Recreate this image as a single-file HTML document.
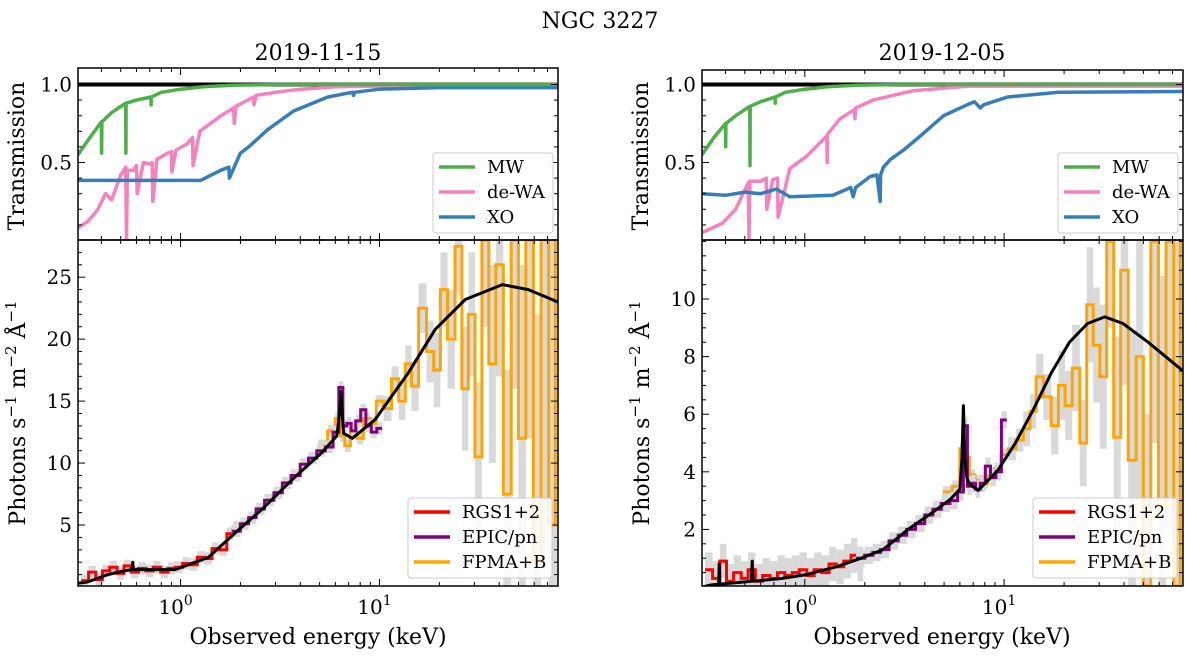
<!DOCTYPE html>
<html><head><meta charset="utf-8"><style>
html,body{margin:0;padding:0;background:#fff;overflow:hidden;width:1200px;height:661px;}
svg{display:block;font-family:"DejaVu Serif","Liberation Serif",serif;}
</style></head><body>
<svg id="fig" width="1200" height="661" viewBox="0 0 1200 661" xmlns="http://www.w3.org/2000/svg">
<text x="600" y="28" font-size="22" text-anchor="middle">NGC 3227</text>
<text x="318" y="60" font-size="22" text-anchor="middle">2019-11-15</text>
<text x="942" y="60" font-size="22" text-anchor="middle">2019-12-05</text>
<text x="318" y="644" font-size="22" text-anchor="middle">Observed energy (keV)</text>
<text x="942" y="644" font-size="22" text-anchor="middle">Observed energy (keV)</text>
<text transform="translate(24,156) rotate(-90)" font-size="22" text-anchor="middle">Transmission</text>
<text transform="translate(648,156) rotate(-90)" font-size="22" text-anchor="middle">Transmission</text>
<text transform="translate(25,413) rotate(-90)" font-size="22" text-anchor="middle">Photons s<tspan dy="-9" font-size="15">−1</tspan><tspan dy="9"> m</tspan><tspan dy="-9" font-size="15">−2</tspan><tspan dy="9"> Å</tspan><tspan dy="-9" font-size="15">−1</tspan></text>
<text transform="translate(649,413) rotate(-90)" font-size="22" text-anchor="middle">Photons s<tspan dy="-9" font-size="15">−1</tspan><tspan dy="9"> m</tspan><tspan dy="-9" font-size="15">−2</tspan><tspan dy="9"> Å</tspan><tspan dy="-9" font-size="15">−1</tspan></text>
</svg>
<script>
// ---------- data: left (2019-11-15) ----------
const mwE_L=[0.305,0.35,0.40,0.401,0.402,0.45,0.53,0.531,0.532,0.6,0.71,0.711,0.712,0.8,1.0,1.3,1.8,3,79];
const mwV_L=[0.55,0.66,0.76,0.56,0.76,0.82,0.88,0.56,0.88,0.9,0.92,0.87,0.92,0.95,0.97,0.985,0.995,1,1];
const dwE_L=[0.305,0.34,0.38,0.42,0.45,0.5,0.53,0.535,0.54,0.58,0.6,0.605,0.65,0.7,0.72,0.725,0.76,0.86,0.9,0.905,0.95,1.08,1.15,1.155,1.25,1.41,1.6,1.85,1.86,1.9,2.33,2.34,2.4,3.0,4,6,10,79];
const dwV_L=[0.08,0.12,0.19,0.3,0.26,0.42,0.47,0.0,0.45,0.45,0.48,0.3,0.5,0.49,0.5,0.25,0.52,0.56,0.57,0.44,0.58,0.62,0.66,0.48,0.7,0.75,0.8,0.85,0.75,0.86,0.92,0.87,0.93,0.95,0.97,0.985,0.99,1.0];
const xoE_L=[0.305,1.26,1.59,1.75,1.76,2.0,2.2,2.74,3.7,5.5,7.3,7.4,7.5,10,20,79];
const xoV_L=[0.385,0.385,0.45,0.47,0.4,0.56,0.6,0.71,0.83,0.92,0.95,0.93,0.95,0.97,0.98,0.98];
const modE_L=[0.305,0.34,0.43,0.52,0.57,0.575,0.58,0.65,0.94,1.38,1.89,2.58,3.66,5.17,6.1,6.3,6.4,6.5,6.6,7.3,9.5,14,19.1,27,41.5,56,79];
const modV_L=[0.3,0.4,1.0,1.3,1.4,2.0,1.4,1.4,1.4,2.4,4.4,6.3,8.7,10.9,12.2,14,15.8,14,12.4,12.0,13.5,17.3,20.8,23.2,24.4,24.0,23.0];
const rgsE=[0.33,0.36,0.39,0.42,0.46,0.5,0.54,0.59,0.64,0.7,0.76,0.83,0.9,0.98,1.07,1.16,1.27,1.38,1.5,1.64,1.78,1.9];
const rgsV_L=[0.5,1.2,0.6,1.3,1.6,1.1,1.7,1.2,1.5,1.3,1.6,1.2,1.5,1.6,1.9,1.8,2.4,2.3,3.1,3.0,4.3,4.8];
const pnE=[1.9,2.1,2.3,2.5,2.8,3.1,3.4,3.8,4.2,4.6,5.1,5.6,6.1,6.4,6.7,7.0,7.4,7.8,8.3,8.8,9.4,10];
const pnV_L=[4.5,5.1,5.6,6.3,7.0,7.6,8.4,9.0,9.9,10.4,11.0,11.3,12.5,16.1,13.0,13.2,12.6,13.4,14.3,13.0,12.5,12.8];
const fpE=[5.2,5.8,6.2,6.5,6.9,7.4,8,8.6,9.3,10,11,12,13,14,15,16.5,18,19.5,21,23,25,27,29,31.5,34,37,40,44,48,52,57,62,68,74,79];
const fpV_L=[11.4,12.6,13.6,12.2,11.4,12.8,12.0,13.6,13.2,15.0,14.4,16.8,15.0,18.0,16.2,22.5,19.0,17.5,24.0,20.0,27.5,16.0,22.0,10.5,28,18.0,26.0,7.5,28,12,28,2.0,28,5,28];
const fpErr_L=[0.5,0.5,0.5,0.5,0.5,0.5,0.5,0.5,0.5,0.5,1,1,1.5,1.5,2,2,2.5,3,3,4,4,5,5,6,7,8,9,10,12,14,16,20,25,30,30];
// ---------- data: right (2019-12-05) ----------
const mwE_R=mwE_L;
const mwV_R=[0.55,0.66,0.75,0.6,0.75,0.8,0.86,0.48,0.86,0.89,0.92,0.88,0.92,0.95,0.97,0.985,0.995,1,1];
const dwE_R=[0.305,0.385,0.45,0.52,0.525,0.53,0.6,0.64,0.645,0.69,0.73,0.735,0.84,1.02,1.29,1.295,1.3,1.5,1.78,1.785,1.8,2.2,3.5,6.6,79];
const dwV_R=[0.05,0.11,0.2,0.37,0.0,0.38,0.38,0.4,0.2,0.39,0.4,0.15,0.46,0.54,0.67,0.5,0.68,0.78,0.84,0.78,0.85,0.9,0.96,0.99,0.99];
const xoE_R=[0.305,0.4,0.5,0.6,0.72,0.84,1.38,1.7,1.75,1.8,2.13,2.3,2.39,2.4,2.48,2.69,3.13,3.8,4.97,6.8,7.1,7.6,7.9,10.4,18.7,79];
const xoV_R=[0.3,0.29,0.31,0.3,0.33,0.28,0.29,0.34,0.28,0.34,0.41,0.42,0.25,0.42,0.47,0.52,0.58,0.67,0.8,0.88,0.89,0.85,0.87,0.92,0.95,0.955];
const modE_R=[0.305,0.338,0.37,0.372,0.375,0.51,0.54,0.545,0.55,0.77,1.0,1.44,1.92,2.47,3.3,4.4,5.4,6.0,6.15,6.25,6.35,6.5,6.67,7.4,9.3,11.4,14,17.3,21.3,26.2,32,39.5,52.8,79];
const modV_R=[0.0,0.07,0.1,0.8,0.1,0.18,0.2,0.9,0.2,0.3,0.42,0.7,1.0,1.3,2.0,2.6,3.06,3.4,4.5,6.3,4.5,3.8,3.6,3.35,4.05,5.0,6.15,7.45,8.5,9.15,9.38,9.15,8.5,7.5];
const rgsV_R=[0.6,0.3,0.9,0.2,0.5,0.3,0.6,0.2,0.4,0.3,0.5,0.4,0.5,0.6,0.4,0.6,0.5,0.8,0.7,0.9,1.1,0.8];
const pnV_R=[1.0,1.1,1.2,1.3,1.6,1.8,2.0,2.2,2.5,2.7,2.9,3.0,3.3,5.6,3.5,3.6,3.4,3.6,4.2,3.8,4.0,5.8];
const fpV_R=[3.3,3.5,4.8,4.5,3.9,3.7,3.6,3.9,4.1,4.6,4.8,5.1,5.5,6.1,7.3,6.6,5.6,7.0,6.3,7.6,5.0,9.8,8.4,7.3,12,5.2,11,4.4,8.0,0.0,12,2.8,12,0.0,12];
const fpErr_R=[0.2,0.2,0.2,0.2,0.2,0.2,0.2,0.2,0.2,0.2,0.4,0.4,0.6,0.6,0.8,0.8,1,1.2,1.2,1.5,1.5,2,2,2.5,3,3.5,4,4.5,5,6,7,8,10,12,14];
const tTicks=[0.5,1.0];
const tTickLabels=["0.5","1.0"];
const fTicks_L=[5,10,15,20,25];
const fTicks_R=[2,4,6,8,10];
const xTickLabelsExp=["0","1"];

const NS="http://www.w3.org/2000/svg";
const svg=document.getElementById('fig');
function mk(tag,attrs,parent){const e=document.createElementNS(NS,tag);for(const k in attrs)e.setAttribute(k,attrs[k]);(parent||svg).appendChild(e);return e;}
const EMIN=0.305,EMAX=79;
const clampY=y=>Math.max(240,Math.min(586,y));

function panel(side,x0,x1,tTop,d){
  const lx=e=>x0+(Math.log10(e)-Math.log10(EMIN))/(Math.log10(EMAX)-Math.log10(EMIN))*(x1-x0);
  const ty=v=>240.5-156*v;
  const bScale=d.bmax;
  const by=v=>587-(587-240)*v/bScale;
  const g=mk('g',{});
  
  
  const defs=mk('defs',{},g);
  const c1=mk('clipPath',{id:side+'ct'},defs);mk('rect',{x:x0,y:tTop,width:x1-x0,height:240-tTop},c1);
  const c2=mk('clipPath',{id:side+'cb'},defs);mk('rect',{x:x0,y:240,width:x1-x0,height:346},c2);
  const gt=mk('g',{'clip-path':'url(#'+side+'ct)'},g);
  
  
  const bl=mk('line',{x1:x0,x2:x1,y1:ty(1),y2:ty(1),stroke:'#000','stroke-width':4},gt);
  
  
  function tline(E,V,col,name){
    let p='';E.forEach((e,i)=>{p+=(i?'L':'M')+lx(e).toFixed(1)+','+ty(V[i]).toFixed(1);});
    const el=mk('path',{d:p,fill:'none',stroke:col,'stroke-width':3.5,'stroke-linejoin':'round'},gt);
    
    
  }
  tline(d.dwE,d.dwV,'#f781bf',side+'-dewa-line');
  tline(d.xoE,d.xoV,'#377eb8',side+'-xo-line');
  tline(d.mwE,d.mwV,'#4daf4a',side+'-mw-line');
  const gb=mk('g',{'clip-path':'url(#'+side+'cb)'},g);
  
  
  function edges(E){const ed=[];for(let i=0;i<E.length;i++){const a=i?Math.sqrt(E[i-1]*E[i]):E[i]*E[i]/Math.sqrt(E[i]*E[i+1]);const b=i<E.length-1?Math.sqrt(E[i]*E[i+1]):E[i]*E[i]/Math.sqrt(E[i-1]*E[i]);ed.push([Math.max(a,EMIN),Math.min(b,EMAX)]);}return ed;}
  function dataset(E,V,err,col,name){
    const ed=edges(E);
    const ge=mk('g',{},gb);
    
    
    E.forEach((e,i)=>{const er=Array.isArray(err)?err[i]:err;
      const yTop=clampY(by(V[i]+er)), yBot=clampY(by(V[i]-er));
      const r=mk('rect',{x:lx(ed[i][0]),width:Math.max(1,lx(ed[i][1])-lx(ed[i][0])),y:yTop,height:Math.max(1,yBot-yTop),fill:'#d9d9d9'},ge);
      
      });
    let p='';E.forEach((e,i)=>{const y=clampY(by(V[i])).toFixed(1);p+=(i?'L':'M')+lx(ed[i][0]).toFixed(1)+','+y+'L'+lx(ed[i][1]).toFixed(1)+','+y;});
    const s=mk('path',{d:p,fill:'none',stroke:col,'stroke-width':3},gb);
    
    
  }
  dataset(fpE,d.fpV,d.fpErr,'#ffa500',side+'-fpma');
  dataset(rgsE,d.rgsV,d.rgsErr,'#ff0000',side+'-rgs');
  dataset(pnE,d.pnV,d.pnErr,'#800080',side+'-epic-pn');
  let mp='';d.modE.forEach((e,i)=>{mp+=(i?'L':'M')+lx(e).toFixed(1)+','+by(d.modV[i]).toFixed(1);});
  const ml=mk('path',{d:mp,fill:'none',stroke:'#000','stroke-width':3,'stroke-linejoin':'round'},gb);
  
  
  const f1=mk('rect',{x:x0,y:tTop,width:x1-x0,height:240-tTop,fill:'none',stroke:'#000','stroke-width':1.5},g);
  
  
  const f2=mk('rect',{x:x0,y:240,width:x1-x0,height:346,fill:'none',stroke:'#000','stroke-width':1.5},g);
  
  
  const xt=mk('g',{stroke:'#000','stroke-width':1},g);
  
  
  [0.1,1,10].forEach(dec=>{for(let m=1;m<10;m++){const e=dec*m;if(e<EMIN||e>EMAX)continue;const x=lx(e);const L=m===1?7:4;
    [[tTop,1],[240,-1],[240,1],[586,-1]].forEach(([y,s])=>mk('line',{x1:x,x2:x,y1:y,y2:y+s*L},xt));}});
  [1,10].forEach((e,i)=>{const t=mk('text',{x:lx(e)-5,y:614,'font-size':20,'text-anchor':'middle'},g);
    t.textContent='10';const sp=mk('tspan',{dy:-9,'font-size':14},t);sp.textContent=xTickLabelsExp[i];
    
    });
  const yt=mk('g',{stroke:'#000','stroke-width':1},g);
  
  
  for(let v=0.1;v<1.12;v+=0.1){const y=ty(v);if(y<tTop+1||y>239)continue;const maj=Math.abs(v-0.5)<1e-6||Math.abs(v-1)<1e-6;const L=maj?7:4;
    mk('line',{x1:x0,x2:x0+L,y1:y,y2:y},yt);mk('line',{x1:x1,x2:x1-L,y1:y,y2:y},yt);}
  tTicks.forEach((v,i)=>{const t=mk('text',{x:x0-6,y:ty(v)+7,'font-size':20,'text-anchor':'end'},g);t.textContent=tTickLabels[i];
    
    });
  for(let v=d.minor;v<bScale;v+=d.minor){const y=by(v);if(y<241)continue;const maj=d.fTicks.some(t=>Math.abs(t-v)<1e-6);const L=maj?7:4;
    mk('line',{x1:x0,x2:x0+L,y1:y,y2:y},yt);mk('line',{x1:x1,x2:x1-L,y1:y,y2:y},yt);}
  d.fTicks.forEach(v=>{const t=mk('text',{x:x0-6,y:by(v)+7,'font-size':20,'text-anchor':'end'},g);t.textContent=String(v);
    
    });
  function legend(lx0,ly0,w,items,name){
    const lg=mk('g',{},g);
    
    
    mk('rect',{x:lx0,y:ly0,width:w,height:80,fill:'#fff','fill-opacity':0.85,stroke:'#ccc',rx:3},lg);
    items.forEach((it,i)=>{const y=ly0+14+i*25;
      const ln=mk('line',{x1:lx0+6,x2:lx0+42,y1:y,y2:y,stroke:it[1],'stroke-width':3.5},lg);
      
      
      const t=mk('text',{x:lx0+54,y:y+6,'font-size':18},lg);t.textContent=it[0];
      
      });
  }
  legend(x1-125,153,120,[['MW','#4daf4a'],['de-WA','#f781bf'],['XO','#377eb8']],side+'-transmission-legend');
  legend(x1-150,498,144,[['RGS1+2','#ff0000'],['EPIC/pn','#800080'],['FPMA+B','#ffa500']],side+'-spectrum-legend');
}
panel('left',78,558,68,{mwE:mwE_L,mwV:mwV_L,dwE:dwE_L,dwV:dwV_L,xoE:xoE_L,xoV:xoV_L,modE:modE_L,modV:modV_L,rgsV:rgsV_L,rgsErr:0.5,pnV:pnV_L,pnErr:0.5,fpV:fpV_L,fpErr:fpErr_L,bmax:28,minor:1,fTicks:fTicks_L});
panel('right',702,1183,70,{mwE:mwE_R,mwV:mwV_R,dwE:dwE_R,dwV:dwV_R,xoE:xoE_R,xoV:xoV_R,modE:modE_R,modV:modV_R,rgsV:rgsV_R,rgsErr:0.6,pnV:pnV_R,pnErr:0.3,fpV:fpV_R,fpErr:fpErr_R,bmax:12.05,minor:0.5,fTicks:fTicks_R});
</script>
</body></html>
